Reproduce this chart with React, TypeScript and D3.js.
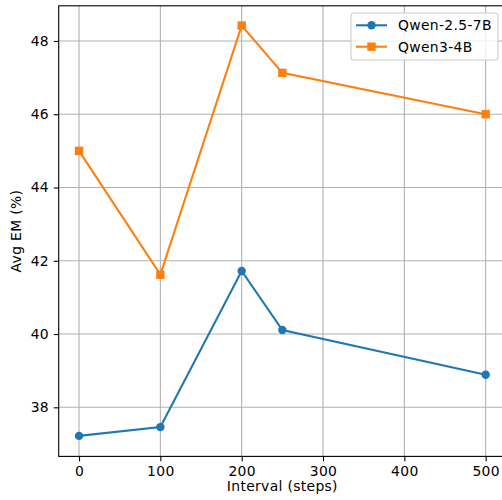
import React, { useEffect, useRef } from 'react';
import * as d3 from 'd3';

const intervals = [0, 100, 200, 250, 500];
const qwen25 = [37.22, 37.46, 41.72, 40.11, 38.89];
const qwen3 = [45.0, 41.62, 48.42, 47.13, 46.0];
const seriesNames = ['Qwen-2.5-7B', 'Qwen3-4B'];
const xTicks = [0, 100, 200, 300, 400, 500];
const yTicks = [38, 40, 42, 44, 46, 48];

const App = () => {
  const ref = useRef<SVGSVGElement>(null);

  useEffect(() => {
    const svg = d3.select(ref.current);
    svg.selectAll('*').remove();

    const W = 502, H = 500;
    const left = 58.7, right = 506, top = 5.8, bottom = 456.4;
    const font = 'DejaVu Sans, sans-serif';
    const fs = 13.9;
    const ls = 0.33; // matplotlib's hinted glyphs run a little wider

    const x = d3.scaleLinear().domain([-25, 525]).range([left, right]);
    const y = d3.scaleLinear().domain([36.66, 48.96]).range([bottom, top]);

    svg.append('rect').attr('width', W).attr('height', H).attr('fill', 'white');

    // grid
    const grid = svg.append('g').attr('stroke', '#b0b0b0').attr('stroke-width', 1.1);
    xTicks.forEach(t => {
      grid.append('line').attr('x1', x(t)).attr('x2', x(t)).attr('y1', top).attr('y2', bottom);
    });
    yTicks.forEach(t => {
      grid.append('line').attr('x1', left).attr('x2', right).attr('y1', y(t)).attr('y2', y(t));
    });

    // axes
    const xAxis = svg.append('g')
      .attr('transform', `translate(0,${bottom})`)
      .call(d3.axisBottom(x).tickValues(xTicks).tickSize(4.9).tickPadding(4.8).tickFormat(d3.format('d')));
    const yAxis = svg.append('g')
      .attr('transform', `translate(${left},0)`)
      .call(d3.axisLeft(y).tickValues(yTicks).tickSize(4.9).tickPadding(4.8).tickFormat(d3.format('d')));
    [xAxis, yAxis].forEach(a => {
      a.select('.domain').remove();
      a.selectAll('line').attr('stroke', 'black').attr('stroke-width', 1.1);
      a.selectAll('text').attr('font-family', font).attr('font-size', fs)
        .attr('letter-spacing', ls).attr('fill', 'black');
    });

    // spines
    svg.append('rect')
      .attr('x', left).attr('y', top)
      .attr('width', right - left).attr('height', bottom - top)
      .attr('fill', 'none').attr('stroke', 'black').attr('stroke-width', 1.1);

    const line = d3.line<number>().x((_, i) => x(intervals[i])).y(d => y(d));
    const colors = ['#1f77b4', '#ff7f0e'];

    [qwen25, qwen3].forEach((vals, k) => {
      svg.append('path').datum(vals).attr('d', line)
        .attr('fill', 'none').attr('stroke', colors[k]).attr('stroke-width', 2.08);
      vals.forEach((v, i) => {
        if (k === 0) {
          svg.append('circle').attr('cx', x(intervals[i])).attr('cy', y(v)).attr('r', 4.2).attr('fill', colors[k]);
        } else {
          svg.append('rect').attr('x', x(intervals[i]) - 4.2).attr('y', y(v) - 4.2)
            .attr('width', 8.4).attr('height', 8.4).attr('fill', colors[k]);
        }
      });
    });

    // labels
    svg.append('text').attr('x', (left + right) / 2).attr('y', 491)
      .attr('text-anchor', 'middle').attr('font-family', font).attr('font-size', fs)
      .attr('letter-spacing', ls).text('Interval (steps)');
    svg.append('text').attr('transform', `translate(21,${(top + bottom) / 2}) rotate(-90)`)
      .attr('text-anchor', 'middle').attr('font-family', font).attr('font-size', fs)
      .attr('letter-spacing', ls).text('Avg EM (%)');

    // legend
    const lg = svg.append('g');
    lg.append('rect').attr('x', 351).attr('y', 13).attr('width', 147).attr('height', 47)
      .attr('rx', 3).attr('fill', 'white').attr('fill-opacity', 0.8)
      .attr('stroke', '#cccccc').attr('stroke-width', 1.1);
    seriesNames.forEach((name, k) => {
      const ly = 25.3 + k * 21.4;
      lg.append('line').attr('x1', 356).attr('x2', 387).attr('y1', ly).attr('y2', ly)
        .attr('stroke', colors[k]).attr('stroke-width', 2.08);
      if (k === 0) {
        lg.append('circle').attr('cx', 371.5).attr('cy', ly).attr('r', 4.2).attr('fill', colors[k]);
      } else {
        lg.append('rect').attr('x', 367.3).attr('y', ly - 4.2).attr('width', 8.4).attr('height', 8.4).attr('fill', colors[k]);
      }
      lg.append('text').attr('x', 398).attr('y', ly + 5).attr('font-family', font).attr('font-size', fs)
        .attr('letter-spacing', ls).text(name);
    });
  }, []);

  return <svg ref={ref} width={502} height={500} style={{ position: 'absolute', left: 0, top: 0 }} />;
};

export default App;
